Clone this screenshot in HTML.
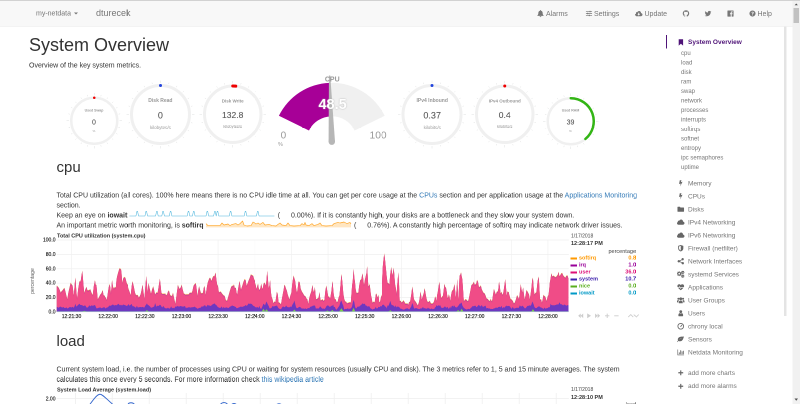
<!DOCTYPE html><html><head><meta charset="utf-8"><title>netdata dashboard</title><style>
html,body{margin:0;padding:0;background:#fff}
body{width:800px;height:404px;overflow:hidden}
#w{position:relative;width:1600px;height:808px;overflow:hidden;transform:scale(.5);transform-origin:0 0;font-family:"Liberation Sans",sans-serif;font-size:14px;line-height:20px;color:#333;will-change:transform}
#w *{box-sizing:border-box}
.abs{position:absolute;white-space:nowrap}
.nav{position:absolute;top:17px;color:#777;font-size:14px;line-height:20px;white-space:nowrap}
.epl,.ept,.epu{position:absolute;left:0;width:100%;text-align:center;line-height:1.42857;white-space:nowrap}
.epl{color:#555;text-shadow:#bbb 0 0 1px}
.ept{color:#999;font-weight:bold}
.epu{color:#999}
a{color:#337ab7;text-decoration:none}
.yl{position:absolute;width:100px;text-align:right;font-size:10px;line-height:12px;color:#111;-webkit-text-stroke:0.25px #111}
.xl{position:absolute;width:80px;text-align:center;font-size:10px;line-height:12px;color:#111;-webkit-text-stroke:0.25px #111}
.lg{position:absolute;left:1141px;width:134px;font-size:11px;line-height:14px;font-weight:bold;white-space:nowrap}
.lg i{position:absolute;left:0;top:6.5px;width:12.5px;height:4px}
.lg b{position:absolute;left:17px;top:0}
.lg u{position:absolute;right:3px;top:0;text-decoration:none}
.sb1{position:absolute;left:1376px;font-size:13px;line-height:18px;color:#767676;white-space:nowrap}
.sb2{position:absolute;left:1362px;font-size:12px;line-height:17px;color:#767676;white-space:nowrap}
</style></head><body><div id="w">
<div style="position:absolute;left:0;top:0;width:1600px;height:53px;background:#f8f8f8;border-bottom:1px solid #e7e7e7"></div>
<div class="nav" style="left:72px;top:16.3px">my-netdata</div>
<div style="position:absolute;left:148px;top:25px;width:0;height:0;border-left:4px solid transparent;border-right:4px solid transparent;border-top:4px solid #777"></div>
<div class="nav" style="left:192px;font-size:18px;top:15.5px">dturecek</div>
<svg style="position:absolute;left:1073px;top:19px" width="16" height="16" viewBox="0 0 16 16" fill="#777"><path d="M8 1.2c.6 0 1 .4 1 1v.4c2 .5 3.300 2.200 3.300 4.400 0 2.600.8 4 2 5v.8H1.700V12c1.200-1 2-2.400 2-5 0-2.200 1.300-3.900 3.300-4.400v-.4c0-.6.400-1 1-1zM6.300 13.600h3.400c0 1-.8 1.700-1.700 1.700s-1.700-.7-1.700-1.700z"/></svg>
<div class="nav" style="left:1092px">Alarms</div>
<svg style="position:absolute;left:1171px;top:20px" width="14" height="14" viewBox="0 0 16 16" fill="#777"><path d="M1 2.800h8.200V2h2.400v.8H15v1.600h-3.400v.8H9.200v-.8H1zM1 7.200h2.800v-.8h2.400v.8H15v1.600H6.200v.8H3.800v-.8H1zM1 11.600h6.600v-.8H10v.8h5v1.600h-5v.8H7.600v-.8H1z"/></svg>
<div class="nav" style="left:1188px">Settings</div>
<svg style="position:absolute;left:1270px;top:20px" width="15" height="15" viewBox="0 0 16 16" fill="#777"><path d="M12.900 6.700c0-.1 0-.2 0-.3 0-2.300-1.900-4.200-4.200-4.200-1.700 0-3.200 1-3.800 2.500-.3-.1-.6-.2-.9-.2-1.300 0-2.300 1-2.300 2.300 0 .2 0 .4.100.6C.7 8 0 9 0 10.200c0 1.700 1.400 3.100 3.100 3.100h9.300c2 0 3.600-1.500 3.600-3.400 0-1.600-1.300-3-3.100-3.200zM8 11.900L5 8.700h1.900V5.800h2.200v2.900H11z" fill-rule="evenodd"/></svg>
<div class="nav" style="left:1289px">Update</div>
<svg style="position:absolute;left:1365px;top:20px" width="14" height="14" viewBox="0 0 16 16" fill="#777"><path d="M8 .7C3.900.7.600 4 .600 8.100c0 3.300 2.100 6 5 7 .4.100.5-.1.500-.4v-1.300c-2 .4-2.500-.9-2.500-.9-.3-.9-.8-1.100-.8-1.100-.7-.5 0-.4 0-.4.700 0 1.100.7 1.100.7.700 1.100 1.700.8 2.100.6.100-.5.300-.8.500-1-1.600-.2-3.400-.8-3.400-3.700 0-.8.300-1.500.8-2-.1-.2-.3-.9.100-2 0 0 .6-.2 2 .8.600-.2 1.200-.2 1.900-.2s1.300.1 1.900.2c1.400-1 2-.8 2-.8.400 1 .2 1.800.1 2 .5.500.8 1.200.8 2 0 2.900-1.700 3.500-3.400 3.700.3.200.5.700.5 1.400v2c0 .2.100.5.500.4 2.900-1 5-3.700 5-7C15.400 4 12.100.7 8 .7z"/></svg>
<svg style="position:absolute;left:1409px;top:20px" width="14" height="14" viewBox="0 0 16 16" fill="#777"><path d="M15.500 3.500c-.6.200-1.100.400-1.800.5.600-.4 1.100-1 1.400-1.700-.6.400-1.300.6-2 .8-.6-.6-1.400-1-2.300-1-1.700 0-3.100 1.400-3.100 3.100 0 .2 0 .5.100.7C5.200 5.800 2.900 4.500 1.400 2.600c-.3.500-.4 1-.4 1.600 0 1.100.5 2 1.400 2.600-.5 0-1-.2-1.400-.4 0 1.500 1.100 2.800 2.500 3.100-.3.100-.5.100-.8.100-.2 0-.4 0-.6-.1.400 1.200 1.500 2.100 2.900 2.200-1.100.8-2.400 1.300-3.900 1.300-.2 0-.5 0-.7 0 1.400.9 3 1.400 4.800 1.400 5.700 0 8.900-4.800 8.900-8.900v-.4c.6-.4 1.100-1 1.500-1.600z"/></svg>
<svg style="position:absolute;left:1454px;top:20px" width="14" height="14" viewBox="0 0 16 16" fill="#777"><path d="M14 1H2c-.6 0-1 .4-1 1v12c0 .6.400 1 1 1h6.500V9.600H6.700V7.500h1.800V5.900c0-1.800 1.100-2.800 2.700-2.800.8 0 1.400.1 1.600.1v1.900h-1.100c-.9 0-1 .4-1 1v1.400h2.100l-.3 2.100h-1.800V15H14c.6 0 1-.4 1-1V2c0-.6-.4-1-1-1z"/></svg>
<svg style="position:absolute;left:1498px;top:20px" width="14" height="14" viewBox="0 0 16 16" fill="#777"><path d="M8 1a7 7 0 100 14A7 7 0 008 1zm.9 11.300H7.100v-1.700h1.800zm1.700-5c-.2.300-.6.600-1 .9-.4.300-.6.500-.6.900v.5H7.100v-.7c0-.8.400-1.200 1-1.600.5-.4.800-.6.800-1 0-.5-.4-.8-.9-.8-.6 0-1 .3-1.300.9L5.300 5.700c.5-1 1.500-1.700 2.800-1.700 1.600 0 2.800.9 2.800 2.200 0 .4-.1.800-.3 1.100z" fill-rule="evenodd"/></svg>
<div class="nav" style="left:1515px">Help</div>
<div class="abs" style="left:58px;top:70px;font-size:36px;line-height:40px;color:#333">System Overview</div>
<div class="abs" style="left:58px;top:120px">Overview of the key system metrics.</div>
<div style="position:absolute;left:132.5px;top:186.3px;width:111px;height:111px"><svg width="111" height="111" viewBox="-55.5 -55.5 111 111" style="position:absolute;left:0;top:0"><path d="M0.00 -50.50L0.00 -55.50M13.07 -48.78L13.85 -51.68M25.25 -43.73L26.75 -46.33M35.71 -35.71L37.83 -37.83M43.73 -25.25L46.33 -26.75M48.78 -13.07L51.68 -13.85M50.50 -0.00L55.50 -0.00M48.78 13.07L51.68 13.85M43.73 25.25L46.33 26.75M35.71 35.71L37.83 37.83M25.25 43.73L26.75 46.33M13.07 48.78L13.85 51.68M0.00 50.50L0.00 55.50M-13.07 48.78L-13.85 51.68M-25.25 43.73L-26.75 46.33M-35.71 35.71L-37.83 37.83M-43.73 25.25L-46.33 26.75M-48.78 13.07L-51.68 13.85M-50.50 0.00L-55.50 0.00M-48.78 -13.07L-51.68 -13.85M-43.73 -25.25L-46.33 -26.75M-35.71 -35.71L-37.83 -37.83M-25.25 -43.73L-26.75 -46.33M-13.07 -48.78L-13.85 -51.68" stroke="#dfe0e0" stroke-width="1" fill="none"/><circle r="46.0" fill="none" stroke="#f0f0f0" stroke-width="5"/><path d="M0 -46.0A46.0 46.0 0 0 1 0.01 -46.00" fill="none" stroke="#ee0000" stroke-width="5" stroke-linecap="round"/></svg><span class="epl" style="font-size:14px;top:48.5px">0</span><span class="ept" style="font-size:7px;top:30.0px">Used Swap</span><span class="epu" style="font-size:6px;top:71.5px">%</span></div>
<div style="position:absolute;left:252.8px;top:161.2px;width:136px;height:136px"><svg width="136" height="136" viewBox="-68.0 -68.0 136 136" style="position:absolute;left:0;top:0"><path d="M0.00 -63.00L0.00 -68.00M16.31 -60.85L17.08 -63.75M31.50 -54.56L33.00 -57.16M44.55 -44.55L46.67 -46.67M54.56 -31.50L57.16 -33.00M60.85 -16.31L63.75 -17.08M63.00 -0.00L68.00 -0.00M60.85 16.31L63.75 17.08M54.56 31.50L57.16 33.00M44.55 44.55L46.67 46.67M31.50 54.56L33.00 57.16M16.31 60.85L17.08 63.75M0.00 63.00L0.00 68.00M-16.31 60.85L-17.08 63.75M-31.50 54.56L-33.00 57.16M-44.55 44.55L-46.67 46.67M-54.56 31.50L-57.16 33.00M-60.85 16.31L-63.75 17.08M-63.00 0.00L-68.00 0.00M-60.85 -16.31L-63.75 -17.08M-54.56 -31.50L-57.16 -33.00M-44.55 -44.55L-46.67 -46.67M-31.50 -54.56L-33.00 -57.16M-16.31 -60.85L-17.08 -63.75" stroke="#dfe0e0" stroke-width="1" fill="none"/><circle r="58.0" fill="none" stroke="#f0f0f0" stroke-width="6"/><path d="M0 -58.0A58.0 58.0 0 0 1 0.01 -58.00" fill="none" stroke="#2244dd" stroke-width="6" stroke-linecap="round"/></svg><span class="epl" style="font-size:18px;top:58px">0</span><span class="ept" style="font-size:10px;top:32.5px">Disk Read</span><span class="epu" style="font-size:9px;top:87.5px">kilobytes/s</span></div>
<div style="position:absolute;left:398.9px;top:162.4px;width:133px;height:133px"><svg width="133" height="133" viewBox="-66.5 -66.5 133 133" style="position:absolute;left:0;top:0"><path d="M0.00 -61.50L0.00 -66.50M15.92 -59.40L16.69 -62.30M30.75 -53.26L32.25 -55.86M43.49 -43.49L45.61 -45.61M53.26 -30.75L55.86 -32.25M59.40 -15.92L62.30 -16.69M61.50 -0.00L66.50 -0.00M59.40 15.92L62.30 16.69M53.26 30.75L55.86 32.25M43.49 43.49L45.61 45.61M30.75 53.26L32.25 55.86M15.92 59.40L16.69 62.30M0.00 61.50L0.00 66.50M-15.92 59.40L-16.69 62.30M-30.75 53.26L-32.25 55.86M-43.49 43.49L-45.61 45.61M-53.26 30.75L-55.86 32.25M-59.40 15.92L-62.30 16.69M-61.50 0.00L-66.50 0.00M-59.40 -15.92L-62.30 -16.69M-53.26 -30.75L-55.86 -32.25M-43.49 -43.49L-45.61 -45.61M-30.75 -53.26L-32.25 -55.86M-15.92 -59.40L-16.69 -62.30" stroke="#dfe0e0" stroke-width="1" fill="none"/><circle r="56.5" fill="none" stroke="#f0f0f0" stroke-width="6"/><path d="M0 -56.5A56.5 56.5 0 0 1 5.99 -56.18" fill="none" stroke="#ee0000" stroke-width="6" stroke-linecap="round"/></svg><span class="epl" style="font-size:17px;top:57px">132.8</span><span class="ept" style="font-size:9px;top:33.5px">Disk Write</span><span class="epu" style="font-size:8px;top:84.5px">kilobytes/s</span></div>
<svg style="position:absolute;left:0;top:0" width="1600" height="808" viewBox="0 0 1600 808"><path d="M557.81 231.58A117.8 117.8 0 0 1 769.39 231.58L709.22 261.05A50.8 50.8 0 0 0 617.98 261.05Z" fill="#f0f0f0"/><path d="M557.81 231.58A117.8 117.8 0 0 1 659.66 165.67L661.90 232.63A50.8 50.8 0 0 0 617.98 261.05Z" fill="#a70097"/><clipPath id="gc"><rect x="500" y="151" width="340" height="160"/></clipPath><g clip-path="url(#gc)"><path d="M670.00 283.19L658.05 117.49L657.20 283.61Z" fill="#b6b6b6"/><circle cx="663.6" cy="283.4" r="6.4" fill="#b6b6b6"/></g></svg>
<div class="abs" style="left:544.5px;width:240px;text-align:center;top:148.5px;font-size:14px;line-height:18px;font-weight:bold;color:#999">CPU</div>
<div class="abs" style="left:545.2px;width:240px;text-align:center;top:188px;font-size:29px;line-height:40px;font-weight:bold;color:#fff;text-shadow:#aaa 0 0 3px">48.5</div>
<div class="abs" style="left:561.2px;top:257px;font-size:20px;line-height:26px;color:#999">0</div>
<div class="abs" style="left:739px;top:257px;font-size:20.5px;line-height:26px;color:#999">100</div>
<div class="abs" style="left:556px;top:280.5px;font-size:11px;line-height:14px;color:#999">%</div>
<div style="position:absolute;left:796.4px;top:161.2px;width:136px;height:136px"><svg width="136" height="136" viewBox="-68.0 -68.0 136 136" style="position:absolute;left:0;top:0"><path d="M0.00 -63.00L0.00 -68.00M16.31 -60.85L17.08 -63.75M31.50 -54.56L33.00 -57.16M44.55 -44.55L46.67 -46.67M54.56 -31.50L57.16 -33.00M60.85 -16.31L63.75 -17.08M63.00 -0.00L68.00 -0.00M60.85 16.31L63.75 17.08M54.56 31.50L57.16 33.00M44.55 44.55L46.67 46.67M31.50 54.56L33.00 57.16M16.31 60.85L17.08 63.75M0.00 63.00L0.00 68.00M-16.31 60.85L-17.08 63.75M-31.50 54.56L-33.00 57.16M-44.55 44.55L-46.67 46.67M-54.56 31.50L-57.16 33.00M-60.85 16.31L-63.75 17.08M-63.00 0.00L-68.00 0.00M-60.85 -16.31L-63.75 -17.08M-54.56 -31.50L-57.16 -33.00M-44.55 -44.55L-46.67 -46.67M-31.50 -54.56L-33.00 -57.16M-16.31 -60.85L-17.08 -63.75" stroke="#dfe0e0" stroke-width="1" fill="none"/><circle r="58.0" fill="none" stroke="#f0f0f0" stroke-width="6"/><path d="M0 -58.0A58.0 58.0 0 0 1 0.01 -58.00" fill="none" stroke="#2244dd" stroke-width="6" stroke-linecap="round"/></svg><span class="epl" style="font-size:18px;top:58px">0.37</span><span class="ept" style="font-size:10px;top:32.5px">IPv4 Inbound</span><span class="epu" style="font-size:9px;top:87.5px">kilobits/s</span></div>
<div style="position:absolute;left:942.9px;top:162.4px;width:133px;height:133px"><svg width="133" height="133" viewBox="-66.5 -66.5 133 133" style="position:absolute;left:0;top:0"><path d="M0.00 -61.50L0.00 -66.50M15.92 -59.40L16.69 -62.30M30.75 -53.26L32.25 -55.86M43.49 -43.49L45.61 -45.61M53.26 -30.75L55.86 -32.25M59.40 -15.92L62.30 -16.69M61.50 -0.00L66.50 -0.00M59.40 15.92L62.30 16.69M53.26 30.75L55.86 32.25M43.49 43.49L45.61 45.61M30.75 53.26L32.25 55.86M15.92 59.40L16.69 62.30M0.00 61.50L0.00 66.50M-15.92 59.40L-16.69 62.30M-30.75 53.26L-32.25 55.86M-43.49 43.49L-45.61 45.61M-53.26 30.75L-55.86 32.25M-59.40 15.92L-62.30 16.69M-61.50 0.00L-66.50 0.00M-59.40 -15.92L-62.30 -16.69M-53.26 -30.75L-55.86 -32.25M-43.49 -43.49L-45.61 -45.61M-30.75 -53.26L-32.25 -55.86M-15.92 -59.40L-16.69 -62.30" stroke="#dfe0e0" stroke-width="1" fill="none"/><circle r="56.5" fill="none" stroke="#f0f0f0" stroke-width="6"/><path d="M0 -56.5A56.5 56.5 0 0 1 0.01 -56.50" fill="none" stroke="#ee0000" stroke-width="6" stroke-linecap="round"/></svg><span class="epl" style="font-size:17px;top:57px">0.4</span><span class="ept" style="font-size:9px;top:33.5px">IPv4 Outbound</span><span class="epu" style="font-size:8px;top:84.5px">kilobits/s</span></div>
<div style="position:absolute;left:1085.5px;top:187.1px;width:111px;height:111px"><svg width="111" height="111" viewBox="-55.5 -55.5 111 111" style="position:absolute;left:0;top:0"><path d="M0.00 -50.50L0.00 -55.50M13.07 -48.78L13.85 -51.68M25.25 -43.73L26.75 -46.33M35.71 -35.71L37.83 -37.83M43.73 -25.25L46.33 -26.75M48.78 -13.07L51.68 -13.85M50.50 -0.00L55.50 -0.00M48.78 13.07L51.68 13.85M43.73 25.25L46.33 26.75M35.71 35.71L37.83 37.83M25.25 43.73L26.75 46.33M13.07 48.78L13.85 51.68M0.00 50.50L0.00 55.50M-13.07 48.78L-13.85 51.68M-25.25 43.73L-26.75 46.33M-35.71 35.71L-37.83 37.83M-43.73 25.25L-46.33 26.75M-48.78 13.07L-51.68 13.85M-50.50 0.00L-55.50 0.00M-48.78 -13.07L-51.68 -13.85M-43.73 -25.25L-46.33 -26.75M-35.71 -35.71L-37.83 -37.83M-25.25 -43.73L-26.75 -46.33M-13.07 -48.78L-13.85 -51.68" stroke="#dfe0e0" stroke-width="1" fill="none"/><circle r="46.0" fill="none" stroke="#f0f0f0" stroke-width="5"/><path d="M0 -46.0A46.0 46.0 0 0 1 29.32 35.44" fill="none" stroke="#33b515" stroke-width="5" stroke-linecap="round"/></svg><span class="epl" style="font-size:14px;top:48px">39</span><span class="ept" style="font-size:7px;top:28.5px">Used RAM</span><span class="epu" style="font-size:6px;top:70.5px">%</span></div>
<div class="abs" style="left:113px;top:317px;font-size:30px;line-height:33px;color:#333">cpu</div>
<div class="abs" style="left:113px;top:380px">Total CPU utilization (all cores). 100% here means there is no CPU idle time at all. You can get per core usage at the <a>CPUs</a> section and per application usage at the <a>Applications Monitoring</a></div>
<div class="abs" style="left:113px;top:400px">section.</div>
<div class="abs" style="left:113px;top:419.7px">Keep an eye on <b>iowait</b></div>
<div class="abs" style="left:555.5px;top:419.7px">(</div><div class="abs" style="left:582px;top:419.7px">0.00%). If it is constantly high, your disks are a bottleneck and they slow your system down.</div>
<div class="abs" style="left:113px;top:439.7px">An important metric worth monitoring, is <b>softirq</b></div>
<div class="abs" style="left:708px;top:439.7px">(</div><div class="abs" style="left:734.5px;top:439.7px">0.76%). A constantly high percentage of softirq may indicate network driver issues.</div>
<svg style="position:absolute;left:0;top:0" width="1600" height="808" viewBox="0 0 1600 808"><path d="M258.8 432L271.9 432L273.9 422.5L275.1 422.5L277.1 432L289.9 432L291.9 422.5L293.1 422.5L295.1 432L311.2 432L313.2 422.5L314.4 422.5L316.4 432L323.6 432L325.6 422.5L326.8 422.5L328.8 432L338.6 432L340.6 422.5L341.8 422.5L343.8 432L374.4 432L376.4 422.5L377.6 422.5L379.6 432L384.9 432L386.9 422.5L388.1 422.5L390.1 432L412.1 432L414.1 422.5L415.3 422.5L417.3 432L427.2 432L429.2 422.5L430.4 422.5L432.4 432L432.4 432L434.4 422.5L435.6 422.5L437.6 432L458.6 432L460.6 422.5L461.8 422.5L463.8 432L488.4 432L490.4 422.5L491.6 422.5L493.6 432L512.9 432L514.9 422.5L516.1 422.5L518.1 432L548.8 432" fill="none" stroke="#4db5dc" stroke-width="1.1" stroke-linejoin="round"/><path d="M412.0 447.2L416.0 451.2L440.0 451.2L444.0 446.0L448.0 450.0L456.0 448.0L460.0 451.2L464.0 448.8L472.0 447.2L476.0 450.0L480.0 447.2L485.2 442.0L488.0 450.0L494.0 452.0L502.0 451.2L506.0 444.0L512.0 448.0L516.0 446.0L520.0 448.8L526.0 444.8L530.0 450.0L538.0 448.8L544.0 451.2L552.0 452.0L556.0 448.8L560.0 446.0L564.0 450.0L572.0 451.2L576.0 446.0L580.0 451.2L588.0 452.0L600.0 451.2L604.0 447.2L608.0 450.0L610.0 444.8L612.0 450.0L618.0 451.2L624.0 447.2L628.0 451.2L636.0 448.8L640.0 446.0L644.0 451.2L652.0 452.0L664.0 451.2L668.0 447.2L676.0 444.8L680.0 446.0L688.0 444.0L694.0 447.2L700.0 444.8L702.0 448.0L702.0 454.8L412.0 454.8Z" fill="#ffe6c2"/><path d="M412.0 447.2L416.0 451.2L440.0 451.2L444.0 446.0L448.0 450.0L456.0 448.0L460.0 451.2L464.0 448.8L472.0 447.2L476.0 450.0L480.0 447.2L485.2 442.0L488.0 450.0L494.0 452.0L502.0 451.2L506.0 444.0L512.0 448.0L516.0 446.0L520.0 448.8L526.0 444.8L530.0 450.0L538.0 448.8L544.0 451.2L552.0 452.0L556.0 448.8L560.0 446.0L564.0 450.0L572.0 451.2L576.0 446.0L580.0 451.2L588.0 452.0L600.0 451.2L604.0 447.2L608.0 450.0L610.0 444.8L612.0 450.0L618.0 451.2L624.0 447.2L628.0 451.2L636.0 448.8L640.0 446.0L644.0 451.2L652.0 452.0L664.0 451.2L668.0 447.2L676.0 444.8L680.0 446.0L688.0 444.0L694.0 447.2L700.0 444.8L702.0 448.0" fill="none" stroke="#ffa526" stroke-width="1.3" stroke-linejoin="round"/></svg>
<div class="abs" style="left:114px;top:464px;font-size:11px;line-height:14px;font-weight:bold;color:#333">Total CPU utilization (system.cpu)</div>
<svg style="position:absolute;left:0;top:0" width="1600" height="808" viewBox="0 0 1600 808"><path d="M113.6 623.8H1137.6M113.6 595.0H1137.6M113.6 566.3H1137.6M113.6 537.5H1137.6M113.6 508.8H1137.6M113.6 480.0H1137.6M143.0 480.0V623.8M216.3 480.0V623.8M289.6 480.0V623.8M362.9 480.0V623.8M436.2 480.0V623.8M509.5 480.0V623.8M582.8 480.0V623.8M656.1 480.0V623.8M729.4 480.0V623.8M802.7 480.0V623.8M876.0 480.0V623.8M949.3 480.0V623.8M1022.6 480.0V623.8M1095.9 480.0V623.8" stroke="#f0f0f0" stroke-width="1.3" fill="none"/><path d="M113.6 623.8L113.6 570.7L117.3 575.0L119.5 579.7L121.4 585.0L123.3 581.9L125.2 580.2L127.1 577.3L128.9 575.4L130.8 582.2L132.7 590.5L134.6 597.8L136.8 584.6L139.1 574.6L141.3 565.1L143.2 568.3L145.1 570.7L146.4 581.0L147.7 590.5L149.3 569.0L150.8 554.4L152.4 577.8L154.1 596.9L156.6 576.0L159.0 561.9L160.4 562.9L161.7 559.7L163.2 548.6L164.7 541.1L166.6 565.0L168.4 585.6L170.7 578.4L173.0 573.2L174.8 580.2L176.7 580.3L178.6 579.7L180.5 578.1L182.9 584.7L185.4 590.1L187.6 571.9L189.9 559.9L191.4 568.8L192.9 569.8L194.2 584.3L195.5 598.2L198.0 593.9L200.4 588.9L202.9 586.1L205.3 579.7L207.1 589.9L208.8 590.4L210.6 593.9L212.1 595.7L213.6 599.5L215.5 586.6L217.4 574.5L219.2 567.5L220.6 574.0L221.9 587.0L224.1 559.6L226.0 572.9L227.9 577.0L229.8 573.3L231.7 575.0L233.0 559.1L234.3 552.1L236.7 543.3L239.2 535.6L240.5 538.5L241.8 536.1L243.1 546.1L244.4 565.6L246.3 557.0L248.2 553.5L250.7 555.0L253.1 564.3L255.0 569.7L256.9 577.3L259.1 582.9L261.4 590.4L263.3 571.8L265.1 562.1L267.6 572.6L270.0 584.9L271.9 589.7L273.8 589.8L275.7 589.8L277.6 594.8L279.4 592.2L281.3 587.9L283.2 579.2L285.1 569.0L287.0 583.8L288.8 597.5L290.7 572.9L292.6 551.3L293.9 568.3L295.2 584.8L297.1 565.4L299.6 577.6L302.0 587.3L304.3 578.1L306.5 572.2L308.4 580.3L310.3 588.7L312.7 584.4L315.2 585.3L317.4 571.9L319.7 556.7L321.2 569.2L322.7 585.1L324.6 587.2L326.5 587.1L328.4 587.6L330.2 586.2L332.1 590.1L334.0 588.7L335.9 583.1L337.8 580.5L340.0 588.8L342.3 591.8L344.2 590.7L346.0 585.0L348.5 597.5L350.9 607.6L353.4 587.3L355.8 569.3L357.5 573.9L359.2 577.6L361.3 574.7L363.3 569.1L365.6 579.2L367.9 587.5L369.9 587.3L372.0 589.6L373.9 587.3L375.8 589.0L377.6 587.7L380.1 584.4L382.5 585.9L384.8 581.7L387.1 571.1L389.3 567.9L391.6 565.7L393.1 575.6L394.6 591.7L396.5 580.0L398.3 571.9L400.2 580.1L402.1 586.6L404.0 585.2L405.9 586.1L407.4 575.4L408.9 571.4L410.2 579.6L411.5 589.2L413.4 576.0L415.3 565.3L417.2 560.1L419.0 555.4L420.9 555.8L422.8 561.6L424.7 556.1L426.6 551.7L428.8 552.3L431.1 544.7L432.6 557.0L434.1 567.9L436.0 571.8L437.8 584.4L439.7 583.3L441.6 582.8L443.5 586.0L445.4 588.3L447.3 590.4L449.1 591.2L451.6 599.5L454.0 601.5L455.9 595.1L457.8 588.3L460.0 580.6L462.3 573.4L464.2 571.1L466.1 571.8L467.9 568.6L469.8 576.0L471.7 574.9L473.0 584.0L474.3 588.9L476.8 573.6L479.2 561.4L480.6 570.8L481.9 579.2L483.4 574.4L484.9 570.1L487.1 562.7L489.4 557.8L491.3 560.1L493.2 571.2L495.0 566.8L496.9 561.4L499.4 555.5L501.8 548.4L504.1 550.1L506.3 551.1L507.8 556.3L509.3 563.5L511.2 568.6L513.1 578.0L514.6 571.3L516.1 566.9L517.4 575.5L518.7 580.0L520.6 576.1L522.5 566.7L524.0 574.0L525.5 577.7L526.8 568.8L528.2 564.7L530.0 566.6L531.9 570.6L533.2 556.8L534.5 541.1L536.1 560.9L537.6 576.5L538.9 569.8L540.2 559.4L541.7 583.1L543.2 592.9L545.1 598.2L547.0 606.4L548.8 602.6L550.7 603.7L552.2 594.5L553.7 583.1L555.4 587.4L557.1 604.0L559.6 605.4L562.0 608.4L563.9 596.4L565.8 586.5L567.3 578.7L568.8 569.0L570.5 572.0L572.2 577.3L573.7 581.0L575.2 587.5L577.1 593.4L578.9 598.7L580.8 590.5L582.7 585.3L585.0 563.0L587.2 550.5L588.7 556.0L590.2 560.7L592.1 575.3L594.0 585.5L595.5 575.2L597.0 562.6L599.3 563.7L601.5 577.3L603.8 582.7L606.0 586.2L608.5 590.7L610.9 592.2L612.8 596.5L614.7 598.0L616.6 607.3L618.5 595.9L620.3 589.1L622.6 582.4L624.9 569.4L626.4 579.9L627.9 584.0L629.7 573.7L632.0 598.0L633.9 597.5L635.8 595.9L637.3 594.4L638.8 583.5L640.1 593.4L641.4 600.2L643.3 599.6L645.2 598.0L647.1 601.4L648.9 598.9L650.8 580.1L652.7 570.5L654.6 581.7L656.5 592.7L658.3 592.8L660.2 596.9L662.7 582.5L665.1 561.5L666.4 577.5L667.7 590.1L669.6 597.6L671.5 598.3L673.4 604.1L675.3 602.9L677.2 594.6L679.0 590.1L680.9 570.5L682.8 547.5L684.7 563.0L686.6 586.1L688.4 597.3L690.3 602.4L692.2 602.7L694.1 606.4L696.0 604.7L697.8 604.9L699.7 603.8L701.6 605.0L702.9 587.4L704.2 570.5L705.7 559.0L707.3 537.0L708.6 554.1L709.9 562.8L711.4 578.4L712.9 585.5L714.8 585.6L716.7 584.7L718.5 570.1L720.4 560.2L722.7 557.7L724.9 546.2L726.4 556.0L727.9 570.3L729.8 559.1L731.7 550.7L733.0 545.2L734.3 531.7L736.6 572.4L737.9 571.3L739.2 567.6L740.6 578.0L741.9 589.6L743.4 595.7L744.9 605.0L747.1 603.1L749.4 604.3L751.7 587.7L753.0 587.0L754.3 591.8L755.6 594.5L756.9 588.9L758.4 603.6L759.9 604.0L761.4 596.8L762.9 590.0L764.3 560.1L765.6 532.6L767.1 517.4L768.6 506.2L770.3 520.9L772.0 538.1L773.5 553.3L775.0 565.1L776.9 565.9L778.7 568.5L780.6 547.1L782.5 533.5L783.8 542.7L785.1 551.3L787.4 534.8L788.7 549.4L790.0 567.1L791.5 574.6L793.0 589.4L794.9 564.0L796.8 544.0L798.1 568.8L799.4 601.7L801.3 601.2L803.2 604.6L805.1 603.1L807.0 600.2L808.8 603.3L810.7 606.6L812.6 607.1L814.5 605.9L816.4 609.2L818.3 603.4L820.1 603.5L822.4 589.9L824.6 572.5L826.2 583.6L827.7 597.2L829.5 601.0L831.4 603.1L833.3 606.3L835.7 610.4L838.2 602.7L839.7 592.7L841.2 582.6L843.5 598.7L845.0 593.3L846.5 589.1L847.8 584.8L849.1 575.9L850.6 582.7L852.1 591.8L854.0 600.6L855.9 604.0L857.8 603.0L859.6 601.2L861.5 605.9L863.4 606.7L865.3 606.4L867.2 604.5L868.7 600.1L870.2 592.2L871.5 595.2L872.8 601.7L874.3 589.2L875.8 582.0L877.3 571.4L878.8 563.1L880.5 579.7L882.2 595.6L884.1 593.0L886.0 590.8L887.5 578.5L889.0 567.2L890.5 573.8L892.0 574.8L893.5 583.2L895.0 595.2L896.3 594.1L897.6 588.3L899.0 592.1L900.3 601.5L901.8 592.1L903.3 583.6L904.8 580.3L906.3 579.2L907.6 574.0L908.9 567.6L910.2 579.7L911.6 595.1L913.1 578.7L914.6 557.4L916.5 599.9L917.8 579.1L919.1 550.9L920.6 548.9L922.1 544.3L923.4 552.1L924.7 558.0L926.2 580.1L927.7 602.6L930.2 598.2L932.6 598.4L934.5 601.4L936.4 601.2L937.7 596.7L939.0 589.7L940.9 580.1L942.8 569.7L945.2 567.9L947.7 563.1L949.4 568.7L951.1 568.5L952.6 566.3L954.1 559.6L956.0 563.1L957.8 573.3L959.7 573.6L961.6 570.3L963.5 577.9L965.4 582.3L967.3 585.6L969.1 586.2L971.0 590.3L972.9 596.2L975.3 597.5L977.8 600.6L979.7 601.7L981.6 596.8L982.9 601.6L984.2 601.6L986.1 588.8L987.9 577.2L989.8 583.4L991.7 588.8L993.6 583.2L995.5 582.5L996.8 576.6L998.1 562.7L999.6 571.4L1001.1 586.3L1003.0 583.2L1004.9 589.5L1006.4 586.0L1007.9 576.7L1009.2 566.8L1010.5 557.7L1011.8 571.1L1013.2 590.9L1015.0 582.2L1016.9 584.2L1018.8 589.5L1020.7 597.0L1023.1 598.5L1025.6 601.6L1027.5 606.1L1029.3 605.4L1031.8 598.3L1034.2 589.8L1036.1 593.4L1038.0 597.6L1039.7 584.4L1041.4 567.6L1042.9 577.3L1044.4 584.4L1046.3 574.5L1047.8 588.1L1049.3 598.3L1051.2 589.8L1053.0 579.5L1054.9 582.6L1056.8 586.1L1058.1 588.7L1059.4 598.2L1061.3 587.4L1063.2 572.1L1064.5 558.7L1065.8 554.9L1067.3 574.5L1068.8 588.7L1070.7 585.7L1072.6 584.6L1073.9 574.1L1075.2 561.6L1077.5 552.6L1078.8 575.6L1080.1 599.1L1082.0 597.5L1083.9 604.9L1085.4 597.9L1086.9 589.2L1088.6 591.6L1090.3 592.5L1091.8 596.5L1093.3 602.1L1095.2 592.7L1097.1 589.3L1098.4 578.4L1099.7 564.2L1101.2 556.3L1102.7 546.0L1104.6 552.7L1106.5 551.0L1108.4 552.0L1110.2 553.8L1112.1 553.6L1114.0 551.0L1115.5 549.3L1117.0 543.2L1118.9 552.3L1120.8 549.5L1122.7 546.0L1124.5 545.8L1126.4 550.4L1128.3 552.7L1130.6 555.0L1132.8 551.0L1134.9 550.5L1137.0 556.9L1137.0 623.8Z" fill="#ffad33" /><path d="M113.6 623.8L113.6 571.8L117.3 576.1L119.5 580.8L121.4 586.1L123.3 583.0L125.2 581.3L127.1 578.5L128.9 576.6L130.8 583.4L132.7 591.7L134.6 599.0L136.8 585.8L139.1 575.7L141.3 566.3L143.2 569.5L145.1 571.8L146.4 582.2L147.7 591.7L149.3 570.2L150.8 555.5L152.4 578.9L154.1 598.0L156.6 577.1L159.0 563.0L160.4 564.1L161.7 560.8L163.2 549.7L164.7 542.3L166.6 566.1L168.4 586.8L170.7 579.6L173.0 574.3L174.8 581.3L176.7 581.4L178.6 580.9L180.5 579.2L182.9 585.9L185.4 591.2L187.6 573.1L189.9 561.1L191.4 570.0L192.9 570.9L194.2 585.5L195.5 599.4L198.0 595.1L200.4 590.1L202.9 587.2L205.3 580.9L207.1 591.1L208.8 591.6L210.6 595.1L212.1 596.8L213.6 600.7L215.5 587.7L217.4 575.6L219.2 568.7L220.6 575.2L221.9 588.2L224.1 560.7L226.0 574.0L227.9 578.1L229.8 574.5L231.7 576.2L233.0 560.3L234.3 553.3L236.7 544.4L239.2 536.7L240.5 539.7L241.8 537.2L243.1 547.3L244.4 566.7L246.3 558.1L248.2 554.7L250.7 556.1L253.1 565.4L255.0 570.9L256.9 578.5L259.1 584.1L261.4 591.5L263.3 573.0L265.1 563.3L267.6 573.8L270.0 586.0L271.9 590.8L273.8 590.9L275.7 590.9L277.6 596.0L279.4 593.3L281.3 589.1L283.2 580.3L285.1 570.1L287.0 584.9L288.8 598.7L290.7 574.0L292.6 552.4L293.9 569.5L295.2 586.0L297.1 566.6L299.6 578.8L302.0 588.5L304.3 579.3L306.5 573.4L308.4 581.5L310.3 589.8L312.7 585.6L315.2 586.4L317.4 573.1L319.7 557.8L321.2 570.4L322.7 586.3L324.6 588.4L326.5 588.2L328.4 588.8L330.2 587.4L332.1 591.3L334.0 589.9L335.9 584.2L337.8 581.6L340.0 590.0L342.3 592.9L344.2 591.9L346.0 586.2L348.5 598.6L350.9 608.8L353.4 588.5L355.8 570.5L357.5 575.1L359.2 578.8L361.3 575.8L363.3 570.3L365.6 580.4L367.9 588.7L369.9 588.4L372.0 590.8L373.9 588.4L375.8 590.2L377.6 588.8L380.1 585.5L382.5 587.0L384.8 582.9L387.1 572.3L389.3 569.0L391.6 566.9L393.1 576.7L394.6 592.8L396.5 581.1L398.3 573.0L400.2 581.2L402.1 587.7L404.0 586.4L405.9 587.3L407.4 576.6L408.9 572.5L410.2 580.8L411.5 590.3L413.4 577.1L415.3 566.5L417.2 561.2L419.0 556.6L420.9 557.0L422.8 562.8L424.7 557.2L426.6 552.9L428.8 553.4L431.1 545.8L432.6 558.1L434.1 569.0L436.0 573.0L437.8 585.6L439.7 584.4L441.6 583.9L443.5 587.1L445.4 589.4L447.3 591.6L449.1 592.3L451.6 600.6L454.0 602.7L455.9 596.3L457.8 589.4L460.0 581.7L462.3 574.5L464.2 572.3L466.1 572.9L467.9 569.7L469.8 577.1L471.7 576.1L473.0 585.1L474.3 590.1L476.8 574.7L479.2 562.6L480.6 571.9L481.9 580.4L483.4 575.6L484.9 571.3L487.1 563.9L489.4 559.0L491.3 561.3L493.2 572.3L495.0 568.0L496.9 562.5L499.4 556.6L501.8 549.5L504.1 551.2L506.3 552.3L507.8 557.5L509.3 564.7L511.2 569.8L513.1 579.1L514.6 572.5L516.1 568.1L517.4 576.6L518.7 581.1L520.6 577.3L522.5 567.9L524.0 575.1L525.5 578.8L526.8 569.9L528.2 565.8L530.0 567.8L531.9 571.7L533.2 557.9L534.5 542.3L536.1 562.1L537.6 577.6L538.9 570.9L540.2 560.6L541.7 584.3L543.2 594.1L545.1 599.4L547.0 607.5L548.8 603.8L550.7 604.8L552.2 595.7L553.7 584.3L555.4 588.6L557.1 605.2L559.6 606.6L562.0 609.5L563.9 597.5L565.8 587.7L567.3 579.9L568.8 570.1L570.5 573.2L572.2 578.5L573.7 582.1L575.2 588.7L577.1 594.6L578.9 599.8L580.8 591.6L582.7 586.4L585.0 564.2L587.2 551.7L588.7 557.2L590.2 561.9L592.1 576.4L594.0 586.7L595.5 576.4L597.0 563.8L599.3 564.9L601.5 578.5L603.8 583.9L606.0 587.3L608.5 591.8L610.9 593.3L612.8 597.7L614.7 599.1L616.6 608.5L618.5 597.0L620.3 590.2L622.6 583.6L624.9 570.6L626.4 581.0L627.9 585.2L629.7 574.8L632.0 599.1L633.9 598.6L635.8 597.1L637.3 595.6L638.8 584.6L640.1 594.6L641.4 601.4L643.3 600.8L645.2 599.2L647.1 602.6L648.9 600.0L650.8 581.2L652.7 571.7L654.6 582.8L656.5 593.8L658.3 594.0L660.2 598.1L662.7 583.7L665.1 562.6L666.4 578.6L667.7 591.3L669.6 598.8L671.5 599.4L673.4 605.2L675.3 604.1L677.2 595.8L679.0 591.2L680.9 571.6L682.8 548.7L684.7 564.1L686.6 587.3L688.4 598.5L690.3 603.5L692.2 603.9L694.1 607.5L696.0 605.9L697.8 606.1L699.7 605.0L701.6 606.1L702.9 588.5L704.2 571.6L705.7 560.2L707.3 538.1L708.6 555.3L709.9 564.0L711.4 579.6L712.9 586.7L714.8 586.7L716.7 585.8L718.5 571.3L720.4 561.3L722.7 558.9L724.9 547.3L726.4 557.2L727.9 571.4L729.8 560.3L731.7 551.9L733.0 546.3L734.3 532.9L736.6 573.6L737.9 572.4L739.2 568.7L740.6 579.2L741.9 590.7L743.4 596.9L744.9 606.1L747.1 604.2L749.4 605.4L751.7 588.8L753.0 588.2L754.3 593.0L755.6 595.7L756.9 590.0L758.4 604.7L759.9 605.1L761.4 598.0L762.9 591.2L764.3 561.3L765.6 533.7L767.1 518.5L768.6 507.4L770.3 522.0L772.0 539.3L773.5 554.4L775.0 566.3L776.9 567.0L778.7 569.6L780.6 548.3L782.5 534.6L783.8 543.8L785.1 552.5L787.4 535.9L788.7 550.6L790.0 568.2L791.5 575.8L793.0 590.6L794.9 565.2L796.8 545.2L798.1 569.9L799.4 602.8L801.3 602.3L803.2 605.7L805.1 604.2L807.0 601.4L808.8 604.5L810.7 607.8L812.6 608.3L814.5 607.0L816.4 610.3L818.3 604.5L820.1 604.6L822.4 591.1L824.6 573.7L826.2 584.7L827.7 598.4L829.5 602.1L831.4 604.2L833.3 607.5L835.7 611.5L838.2 603.9L839.7 593.9L841.2 583.7L843.5 599.8L845.0 594.4L846.5 590.2L847.8 585.9L849.1 577.1L850.6 583.8L852.1 593.0L854.0 601.8L855.9 605.2L857.8 604.1L859.6 602.3L861.5 607.0L863.4 607.9L865.3 607.6L867.2 605.7L868.7 601.2L870.2 593.4L871.5 596.3L872.8 602.9L874.3 590.4L875.8 583.2L877.3 572.5L878.8 564.3L880.5 580.8L882.2 596.8L884.1 594.2L886.0 591.9L887.5 579.6L889.0 568.3L890.5 575.0L892.0 575.9L893.5 584.3L895.0 596.4L896.3 595.2L897.6 589.5L899.0 593.3L900.3 602.6L901.8 593.2L903.3 584.7L904.8 581.5L906.3 580.4L907.6 575.1L908.9 568.7L910.2 580.8L911.6 596.3L913.1 579.8L914.6 558.6L916.5 601.0L917.8 580.3L919.1 552.0L920.6 550.1L922.1 545.5L923.4 553.3L924.7 559.2L926.2 581.3L927.7 603.7L930.2 599.4L932.6 599.5L934.5 602.6L936.4 602.4L937.7 597.8L939.0 590.9L940.9 581.2L942.8 570.9L945.2 569.0L947.7 564.2L949.4 569.8L951.1 569.6L952.6 567.5L954.1 560.7L956.0 564.2L957.8 574.5L959.7 574.8L961.6 571.5L963.5 579.0L965.4 583.5L967.3 586.8L969.1 587.3L971.0 591.5L972.9 597.3L975.3 598.6L977.8 601.8L979.7 602.9L981.6 597.9L982.9 602.8L984.2 602.7L986.1 590.0L987.9 578.4L989.8 584.5L991.7 590.0L993.6 584.3L995.5 583.6L996.8 577.7L998.1 563.8L999.6 572.5L1001.1 587.5L1003.0 584.4L1004.9 590.6L1006.4 587.1L1007.9 577.8L1009.2 568.0L1010.5 558.9L1011.8 572.3L1013.2 592.0L1015.0 583.3L1016.9 585.4L1018.8 590.6L1020.7 598.2L1023.1 599.7L1025.6 602.7L1027.5 607.3L1029.3 606.6L1031.8 599.5L1034.2 590.9L1036.1 594.6L1038.0 598.7L1039.7 585.6L1041.4 568.8L1042.9 578.4L1044.4 585.6L1046.3 575.6L1047.8 589.3L1049.3 599.5L1051.2 591.0L1053.0 580.7L1054.9 583.7L1056.8 587.3L1058.1 589.9L1059.4 599.4L1061.3 588.5L1063.2 573.3L1064.5 559.9L1065.8 556.1L1067.3 575.7L1068.8 589.8L1070.7 586.9L1072.6 585.7L1073.9 575.3L1075.2 562.8L1077.5 553.7L1078.8 576.8L1080.1 600.2L1082.0 598.7L1083.9 606.0L1085.4 599.0L1086.9 590.4L1088.6 592.8L1090.3 593.7L1091.8 597.7L1093.3 603.3L1095.2 593.8L1097.1 590.5L1098.4 579.6L1099.7 565.3L1101.2 557.5L1102.7 547.2L1104.6 553.8L1106.5 552.1L1108.4 553.2L1110.2 554.9L1112.1 554.7L1114.0 552.2L1115.5 550.5L1117.0 544.3L1118.9 553.4L1120.8 550.7L1122.7 547.2L1124.5 546.9L1126.4 551.5L1128.3 553.9L1130.6 556.2L1132.8 552.2L1134.9 551.6L1137.0 558.1L1137.0 623.8Z" fill="#b030b0" /><path d="M113.6 623.8L113.6 573.3L117.3 577.6L119.5 582.3L121.4 587.6L123.3 584.5L125.2 582.8L127.1 579.9L128.9 578.0L130.8 584.8L132.7 593.1L134.6 600.4L136.8 587.2L139.1 577.2L141.3 567.7L143.2 570.9L145.1 573.3L146.4 583.6L147.7 593.1L149.3 571.6L150.8 556.9L152.4 580.4L154.1 599.5L156.6 578.5L159.0 564.4L160.4 565.5L161.7 562.3L163.2 551.2L164.7 543.7L166.6 567.6L168.4 588.2L170.7 581.0L173.0 575.7L174.8 582.8L176.7 582.9L178.6 582.3L180.5 580.7L182.9 587.3L185.4 592.6L187.6 574.5L189.9 562.5L191.4 571.4L192.9 572.4L194.2 586.9L195.5 600.8L198.0 596.5L200.4 591.5L202.9 588.7L205.3 582.3L207.1 592.5L208.8 593.0L210.6 596.5L212.1 598.3L213.6 602.1L215.5 589.2L217.4 577.0L219.2 570.1L220.6 576.6L221.9 589.6L224.1 562.2L226.0 575.5L227.9 579.6L229.8 575.9L231.7 577.6L233.0 561.7L234.3 554.7L236.7 545.9L239.2 538.2L240.5 541.1L241.8 538.7L243.1 548.7L244.4 568.2L246.3 559.6L248.2 556.1L250.7 557.6L253.1 566.9L255.0 572.3L256.9 579.9L259.1 585.5L261.4 593.0L263.3 574.4L265.1 564.7L267.6 575.2L270.0 587.5L271.9 592.3L273.8 592.4L275.7 592.4L277.6 597.4L279.4 594.7L281.3 590.5L283.2 581.8L285.1 571.6L287.0 586.4L288.8 600.1L290.7 575.5L292.6 553.9L293.9 570.9L295.2 587.4L297.1 568.0L299.6 580.2L302.0 589.9L304.3 580.7L306.5 574.8L308.4 582.9L310.3 591.3L312.7 587.0L315.2 587.9L317.4 574.5L319.7 559.3L321.2 571.8L322.7 587.7L324.6 589.8L326.5 589.7L328.4 590.2L330.2 588.8L332.1 592.7L334.0 591.3L335.9 585.7L337.8 583.1L340.0 591.4L342.3 594.4L344.2 593.3L346.0 587.6L348.5 600.1L350.9 610.2L353.4 589.9L355.8 571.9L357.5 576.5L359.2 580.2L361.3 577.2L363.3 571.7L365.6 581.8L367.9 590.1L369.9 589.9L372.0 592.2L373.9 589.8L375.8 591.6L377.6 590.3L380.1 587.0L382.5 588.4L384.8 584.3L387.1 573.7L389.3 570.5L391.6 568.3L393.1 578.2L394.6 594.3L396.5 582.5L398.3 574.4L400.2 582.7L402.1 589.2L404.0 587.8L405.9 588.7L407.4 578.0L408.9 574.0L410.2 582.2L411.5 591.8L413.4 578.5L415.3 567.9L417.2 562.7L419.0 558.0L420.9 558.4L422.8 564.2L424.7 558.7L426.6 554.3L428.8 554.8L431.1 547.3L432.6 559.5L434.1 570.5L436.0 574.4L437.8 587.0L439.7 585.9L441.6 585.4L443.5 588.6L445.4 590.9L447.3 593.0L449.1 593.7L451.6 602.1L454.0 604.1L455.9 597.7L457.8 590.9L460.0 583.2L462.3 576.0L464.2 573.7L466.1 574.4L467.9 571.2L469.8 578.5L471.7 577.5L473.0 586.6L474.3 591.5L476.8 576.1L479.2 564.0L480.6 573.3L481.9 581.8L483.4 577.0L484.9 572.7L487.1 565.3L489.4 560.4L491.3 562.7L493.2 573.8L495.0 569.4L496.9 564.0L499.4 558.1L501.8 551.0L504.1 552.6L506.3 553.7L507.8 558.9L509.3 566.1L511.2 571.2L513.1 580.6L514.6 573.9L516.1 569.5L517.4 578.0L518.7 582.6L520.6 578.7L522.5 569.3L524.0 576.6L525.5 580.2L526.8 571.4L528.2 567.3L530.0 569.2L531.9 573.1L533.2 559.3L534.5 543.7L536.1 563.5L537.6 579.1L538.9 572.4L540.2 562.0L541.7 585.7L543.2 595.5L545.1 600.8L547.0 608.9L548.8 605.2L550.7 606.3L552.2 597.1L553.7 585.7L555.4 590.0L557.1 606.6L559.6 608.0L562.0 611.0L563.9 599.0L565.8 589.1L567.3 581.3L568.8 571.6L570.5 574.6L572.2 579.9L573.7 583.6L575.2 590.1L577.1 596.0L578.9 601.3L580.8 593.1L582.7 587.8L585.0 565.6L587.2 553.1L588.7 558.6L590.2 563.3L592.1 577.9L594.0 588.1L595.5 577.8L597.0 565.2L599.3 566.3L601.5 579.9L603.8 585.3L606.0 588.7L608.5 593.2L610.9 594.8L612.8 599.1L614.7 600.6L616.6 609.9L618.5 598.5L620.3 591.7L622.6 585.0L624.9 572.0L626.4 582.5L627.9 586.6L629.7 576.3L632.0 600.6L633.9 600.0L635.8 598.5L637.3 597.0L638.8 586.0L640.1 596.0L641.4 602.8L643.3 602.2L645.2 600.6L647.1 604.0L648.9 601.5L650.8 582.7L652.7 573.1L654.6 584.3L656.5 595.3L658.3 595.4L660.2 599.5L662.7 585.1L665.1 564.1L666.4 580.1L667.7 592.7L669.6 600.2L671.5 600.9L673.4 606.7L675.3 605.5L677.2 597.2L679.0 592.6L680.9 573.0L682.8 550.1L684.7 565.6L686.6 588.7L688.4 599.9L690.3 605.0L692.2 605.3L694.1 609.0L696.0 607.3L697.8 607.5L699.7 606.4L701.6 607.6L702.9 590.0L704.2 573.1L705.7 561.6L707.3 539.6L708.6 556.7L709.9 565.4L711.4 581.0L712.9 588.1L714.8 588.2L716.7 587.2L718.5 572.7L720.4 562.8L722.7 560.3L724.9 548.7L726.4 558.6L727.9 572.9L729.8 561.7L731.7 553.3L733.0 547.8L734.3 534.3L736.6 575.0L737.9 573.9L739.2 570.2L740.6 580.6L741.9 592.2L743.4 598.3L744.9 607.6L747.1 605.7L749.4 606.8L751.7 590.3L753.0 589.6L754.3 594.4L755.6 597.1L756.9 591.5L758.4 606.2L759.9 606.6L761.4 599.4L762.9 592.6L764.3 562.7L765.6 535.2L767.1 520.0L768.6 508.8L770.3 523.5L772.0 540.7L773.5 555.8L775.0 567.7L776.9 568.5L778.7 571.1L780.6 549.7L782.5 536.0L783.8 545.3L785.1 553.9L787.4 537.4L788.7 552.0L790.0 569.7L791.5 577.2L793.0 592.0L794.9 566.6L796.8 546.6L798.1 571.4L799.4 604.3L801.3 603.7L803.2 607.2L805.1 605.7L807.0 602.8L808.8 605.9L810.7 609.2L812.6 609.7L814.5 608.5L816.4 611.8L818.3 606.0L820.1 606.0L822.4 592.5L824.6 575.1L826.2 586.2L827.7 599.8L829.5 603.6L831.4 605.7L833.3 608.9L835.7 613.0L838.2 605.3L839.7 595.3L841.2 585.2L843.5 601.3L845.0 595.9L846.5 591.7L847.8 587.4L849.1 578.5L850.6 585.3L852.1 594.4L854.0 603.2L855.9 606.6L857.8 605.6L859.6 603.8L861.5 608.5L863.4 609.3L865.3 609.0L867.2 607.1L868.7 602.7L870.2 594.8L871.5 597.8L872.8 604.3L874.3 591.8L875.8 584.6L877.3 573.9L878.8 565.7L880.5 582.2L882.2 598.2L884.1 595.6L886.0 593.4L887.5 581.0L889.0 569.8L890.5 576.4L892.0 577.4L893.5 585.8L895.0 597.8L896.3 596.6L897.6 590.9L899.0 594.7L900.3 604.0L901.8 594.7L903.3 586.1L904.8 582.9L906.3 581.8L907.6 576.6L908.9 570.1L910.2 582.3L911.6 597.7L913.1 581.2L914.6 560.0L916.5 602.5L917.8 581.7L919.1 553.5L920.6 551.5L922.1 546.9L923.4 554.7L924.7 560.6L926.2 582.7L927.7 605.2L930.2 600.8L932.6 600.9L934.5 604.0L936.4 603.8L937.7 599.3L939.0 592.3L940.9 582.6L942.8 572.3L945.2 570.4L947.7 565.7L949.4 571.3L951.1 571.0L952.6 568.9L954.1 562.2L956.0 565.7L957.8 575.9L959.7 576.2L961.6 572.9L963.5 580.5L965.4 584.9L967.3 588.2L969.1 588.8L971.0 592.9L972.9 598.8L975.3 600.0L977.8 603.2L979.7 604.3L981.6 599.3L982.9 604.2L984.2 604.2L986.1 591.4L987.9 579.8L989.8 586.0L991.7 591.4L993.6 585.8L995.5 585.1L996.8 579.2L998.1 565.3L999.6 574.0L1001.1 588.9L1003.0 585.8L1004.9 592.1L1006.4 588.6L1007.9 579.3L1009.2 569.4L1010.5 560.3L1011.8 573.7L1013.2 593.4L1015.0 584.8L1016.9 586.8L1018.8 592.0L1020.7 599.6L1023.1 601.1L1025.6 604.2L1027.5 608.7L1029.3 608.0L1031.8 600.9L1034.2 592.3L1036.1 596.0L1038.0 600.2L1039.7 587.0L1041.4 570.2L1042.9 579.9L1044.4 587.0L1046.3 577.1L1047.8 590.7L1049.3 600.9L1051.2 592.4L1053.0 582.1L1054.9 585.1L1056.8 588.7L1058.1 591.3L1059.4 600.8L1061.3 589.9L1063.2 574.7L1064.5 561.3L1065.8 557.5L1067.3 577.1L1068.8 591.2L1070.7 588.3L1072.6 587.2L1073.9 576.7L1075.2 564.2L1077.5 555.1L1078.8 578.2L1080.1 601.7L1082.0 600.1L1083.9 607.4L1085.4 600.5L1086.9 591.8L1088.6 594.2L1090.3 595.1L1091.8 599.1L1093.3 604.7L1095.2 595.3L1097.1 591.9L1098.4 581.0L1099.7 566.8L1101.2 558.9L1102.7 548.6L1104.6 555.2L1106.5 553.5L1108.4 554.6L1110.2 556.4L1112.1 556.2L1114.0 553.6L1115.5 551.9L1117.0 545.7L1118.9 554.9L1120.8 552.1L1122.7 548.6L1124.5 548.3L1126.4 553.0L1128.3 555.3L1130.6 557.6L1132.8 553.6L1134.9 553.1L1137.0 559.5L1137.0 623.8Z" fill="#f04c87" /><path d="M113.6 623.8L113.6 613.7L117.3 615.5L119.5 613.8L121.4 613.2L123.3 614.8L125.2 614.9L127.1 614.1L128.9 616.1L130.8 615.9L132.7 614.6L134.6 616.9L136.8 616.1L139.1 614.3L141.3 614.2L143.2 614.9L145.1 613.4L146.4 614.8L147.7 615.4L149.3 612.1L150.8 607.6L152.4 613.3L154.1 611.9L156.6 609.4L159.0 607.4L160.4 609.8L161.7 610.0L163.2 610.3L164.7 610.6L166.6 612.3L168.4 611.3L170.7 611.0L173.0 615.1L174.8 615.3L176.7 613.7L178.6 610.6L180.5 612.8L182.9 610.8L185.4 611.4L187.6 611.1L189.9 610.1L191.4 613.2L192.9 616.6L194.2 617.1L195.5 616.0L198.0 615.4L200.4 614.7L202.9 616.6L205.3 615.6L207.1 614.8L208.8 614.3L210.6 616.9L212.1 616.1L213.6 614.9L215.5 614.8L217.4 612.7L219.2 610.9L220.6 611.4L221.9 611.6L224.1 609.7L226.0 609.0L227.9 610.8L229.8 610.7L231.7 609.9L233.0 610.7L234.3 609.8L236.7 607.5L239.2 610.2L240.5 610.8L241.8 609.4L243.1 610.5L244.4 611.0L246.3 609.1L248.2 609.8L250.7 610.6L253.1 611.9L255.0 610.6L256.9 608.2L259.1 611.4L261.4 609.5L263.3 608.1L265.1 612.4L267.6 612.5L270.0 614.3L271.9 615.5L273.8 611.4L275.7 615.2L277.6 614.6L279.4 614.3L281.3 614.0L283.2 614.5L285.1 613.7L287.0 614.7L288.8 615.1L290.7 611.3L292.6 608.9L293.9 606.8L295.2 609.4L297.1 610.6L299.6 612.6L302.0 615.6L304.3 615.1L306.5 614.1L308.4 613.0L310.3 606.3L312.7 613.4L315.2 611.3L317.4 612.1L319.7 609.5L321.2 610.3L322.7 612.7L324.6 615.0L326.5 611.7L328.4 614.4L330.2 616.4L332.1 616.5L334.0 616.9L335.9 615.3L337.8 617.1L340.0 617.1L342.3 612.8L344.2 616.4L346.0 615.4L348.5 616.8L350.9 613.0L353.4 613.3L355.8 611.7L357.5 613.4L359.2 612.7L361.3 612.1L363.3 612.7L365.6 613.2L367.9 612.9L369.9 611.9L372.0 616.8L373.9 614.6L375.8 616.1L377.6 614.1L380.1 615.2L382.5 614.8L384.8 614.4L387.1 614.3L389.3 613.2L391.6 615.3L393.1 615.8L394.6 617.5L396.5 617.1L398.3 615.7L400.2 615.8L402.1 614.8L404.0 612.0L405.9 613.9L407.4 611.5L408.9 611.0L410.2 610.2L411.5 612.9L413.4 613.0L415.3 609.4L417.2 610.9L419.0 611.0L420.9 611.9L422.8 610.9L424.7 609.0L426.6 608.2L428.8 606.8L431.1 609.3L432.6 610.0L434.1 612.2L436.0 614.5L437.8 615.1L439.7 615.9L441.6 615.2L443.5 612.8L445.4 617.1L447.3 613.7L449.1 616.0L451.6 615.1L454.0 614.8L455.9 616.2L457.8 615.6L460.0 613.3L462.3 612.6L464.2 610.7L466.1 611.9L467.9 612.1L469.8 613.4L471.7 614.1L473.0 616.3L474.3 616.4L476.8 615.3L479.2 614.4L480.6 612.9L481.9 614.0L483.4 613.3L484.9 613.7L487.1 612.7L489.4 612.1L491.3 610.0L493.2 611.8L495.0 610.3L496.9 607.1L499.4 607.8L501.8 607.2L504.1 608.8L506.3 611.5L507.8 612.0L509.3 613.7L511.2 614.5L513.1 615.1L514.6 613.8L516.1 615.6L517.4 615.6L518.7 611.8L520.6 616.7L522.5 617.7L524.0 614.6L525.5 611.3L526.8 607.5L528.2 608.5L530.0 610.7L531.9 605.8L533.2 602.9L534.5 606.5L536.1 609.7L537.6 612.5L538.9 616.6L540.2 617.0L541.7 616.3L543.2 615.5L545.1 612.0L547.0 612.9L548.8 612.8L550.7 611.6L552.2 612.4L553.7 610.6L555.4 613.9L557.1 616.4L559.6 618.0L562.0 618.5L563.9 615.3L565.8 613.0L567.3 613.2L568.8 614.6L570.5 613.7L572.2 611.0L573.7 613.2L575.2 614.2L577.1 614.4L578.9 614.7L580.8 613.0L582.7 614.2L585.0 609.0L587.2 605.8L588.7 601.1L590.2 606.9L592.1 614.6L594.0 616.4L595.5 616.0L597.0 614.7L599.3 613.4L601.5 614.9L603.8 617.4L606.0 616.8L608.5 617.7L610.9 616.7L612.8 618.2L614.7 617.0L616.6 615.9L618.5 616.7L620.3 613.8L622.6 612.9L624.9 612.2L626.4 610.5L627.9 612.3L629.7 610.2L632.0 617.9L633.9 616.1L635.8 617.4L637.3 616.7L638.8 615.2L640.1 612.7L641.4 613.7L643.3 616.3L645.2 617.5L647.1 617.0L648.9 618.1L650.8 616.2L652.7 612.8L654.6 610.9L656.5 611.0L658.3 612.9L660.2 613.7L662.7 611.7L665.1 611.2L666.4 608.9L667.7 614.3L669.6 613.7L671.5 618.3L673.4 619.5L675.3 616.2L677.2 613.8L679.0 611.1L680.9 603.9L682.8 601.0L684.7 607.3L686.6 611.2L688.4 619.3L690.3 617.8L692.2 617.9L694.1 617.7L696.0 616.3L697.8 619.0L699.7 617.1L701.6 617.0L702.9 615.2L704.2 612.2L705.7 605.2L707.3 600.0L708.6 604.2L709.9 612.3L711.4 616.7L712.9 616.5L714.8 613.6L716.7 613.2L718.5 613.2L720.4 611.2L722.7 609.8L724.9 606.6L726.4 608.4L727.9 607.2L729.8 608.0L731.7 611.5L733.0 611.0L734.3 613.1L736.6 612.7L737.9 612.5L739.2 613.2L740.6 616.4L741.9 617.1L743.4 617.9L744.9 619.3L747.1 618.1L749.4 617.4L751.7 613.5L753.0 617.3L754.3 616.4L755.6 616.5L756.9 613.6L758.4 614.3L759.9 614.2L761.4 611.8L762.9 612.7L764.3 609.2L765.6 610.5L767.1 608.9L768.6 610.7L770.3 613.6L772.0 612.9L773.5 617.2L775.0 610.8L776.9 611.8L778.7 607.4L780.6 601.8L782.5 608.4L783.8 610.2L785.1 610.2L787.4 611.5L788.7 613.1L790.0 613.9L791.5 610.4L793.0 614.9L794.9 613.0L796.8 613.2L798.1 614.5L799.4 614.9L801.3 617.8L803.2 617.5L805.1 618.7L807.0 619.2L808.8 619.1L810.7 617.4L812.6 617.2L814.5 616.6L816.4 617.6L818.3 618.9L820.1 616.8L822.4 613.3L824.6 605.9L826.2 610.0L827.7 615.5L829.5 617.7L831.4 615.9L833.3 616.6L835.7 617.6L838.2 618.3L839.7 618.0L841.2 616.7L843.5 616.9L845.0 614.7L846.5 614.5L847.8 617.3L849.1 615.9L850.6 617.1L852.1 617.1L854.0 617.7L855.9 615.3L857.8 617.3L859.6 617.2L861.5 618.5L863.4 616.8L865.3 618.5L867.2 617.8L868.7 617.7L870.2 614.6L871.5 614.2L872.8 610.6L874.3 611.3L875.8 612.6L877.3 609.9L878.8 611.8L880.5 610.4L882.2 614.7L884.1 616.1L886.0 615.6L887.5 615.2L889.0 613.2L890.5 613.1L892.0 615.3L893.5 615.3L895.0 613.4L896.3 616.2L897.6 617.8L899.0 616.1L900.3 612.8L901.8 617.0L903.3 612.6L904.8 611.9L906.3 610.9L907.6 613.9L908.9 610.5L910.2 614.1L911.6 614.4L913.1 614.9L914.6 614.3L916.5 611.3L917.8 610.8L919.1 607.5L920.6 607.7L922.1 605.3L923.4 605.7L924.7 611.1L926.2 613.5L927.7 615.7L930.2 617.4L932.6 618.9L934.5 618.8L936.4 617.5L937.7 618.2L939.0 618.4L940.9 616.7L942.8 615.0L945.2 612.3L947.7 612.4L949.4 611.5L951.1 611.5L952.6 614.4L954.1 613.5L956.0 611.5L957.8 609.5L959.7 612.2L961.6 612.8L963.5 609.9L965.4 613.4L967.3 613.5L969.1 612.2L971.0 611.2L972.9 616.8L975.3 616.1L977.8 617.2L979.7 616.8L981.6 618.4L982.9 617.8L984.2 617.9L986.1 618.1L987.9 616.5L989.8 616.7L991.7 615.1L993.6 615.5L995.5 615.5L996.8 613.9L998.1 613.7L999.6 613.6L1001.1 615.0L1003.0 611.4L1004.9 616.8L1006.4 614.4L1007.9 614.8L1009.2 615.6L1010.5 612.5L1011.8 613.3L1013.2 610.9L1015.0 612.5L1016.9 611.7L1018.8 612.0L1020.7 614.4L1023.1 617.8L1025.6 613.8L1027.5 617.3L1029.3 617.1L1031.8 616.0L1034.2 615.2L1036.1 616.0L1038.0 614.9L1039.7 610.6L1041.4 612.8L1042.9 612.9L1044.4 611.3L1046.3 612.8L1047.8 614.3L1049.3 616.5L1051.2 616.5L1053.0 614.3L1054.9 611.8L1056.8 612.0L1058.1 610.7L1059.4 610.9L1061.3 611.6L1063.2 608.2L1064.5 603.1L1065.8 605.4L1067.3 609.0L1068.8 613.9L1070.7 616.0L1072.6 616.3L1073.9 615.5L1075.2 613.9L1077.5 612.8L1078.8 612.6L1080.1 615.0L1082.0 614.3L1083.9 616.4L1085.4 616.2L1086.9 618.4L1088.6 614.9L1090.3 616.7L1091.8 617.4L1093.3 616.3L1095.2 616.3L1097.1 614.4L1098.4 614.7L1099.7 614.2L1101.2 607.6L1102.7 610.1L1104.6 610.6L1106.5 610.5L1108.4 610.7L1110.2 610.2L1112.1 609.8L1114.0 608.7L1115.5 608.9L1117.0 609.0L1118.9 604.5L1120.8 608.6L1122.7 608.5L1124.5 609.5L1126.4 611.0L1128.3 609.0L1130.6 609.9L1132.8 611.5L1134.9 610.3L1137.0 610.5L1137.0 623.8Z" fill="#6e38c0" /><path d="M113.6 623.8L113.6 623.8L117.3 623.8L119.5 623.8L121.4 623.8L123.3 623.8L125.2 623.8L127.1 623.8L128.9 623.8L130.8 623.8L132.7 623.8L134.6 623.8L136.8 623.8L139.1 623.8L141.3 623.8L143.2 623.8L145.1 623.8L146.4 623.8L147.7 623.8L149.3 623.8L150.8 623.8L152.4 623.8L154.1 623.8L156.6 623.8L159.0 623.8L160.4 623.8L161.7 623.8L163.2 623.8L164.7 623.3L166.6 622.4L168.4 621.6L170.7 622.4L173.0 623.3L174.8 623.8L176.7 623.8L178.6 623.8L180.5 623.8L182.9 623.8L185.4 623.8L187.6 623.8L189.9 623.8L191.4 623.8L192.9 623.8L194.2 623.8L195.5 623.8L198.0 623.8L200.4 623.8L202.9 623.8L205.3 623.8L207.1 623.8L208.8 623.8L210.6 623.8L212.1 623.8L213.6 623.8L215.5 623.8L217.4 623.8L219.2 623.8L220.6 623.8L221.9 623.8L224.1 623.8L226.0 623.8L227.9 623.8L229.8 623.8L231.7 623.8L233.0 623.8L234.3 623.8L236.7 623.8L239.2 623.8L240.5 623.8L241.8 623.8L243.1 623.8L244.4 623.8L246.3 623.8L248.2 623.8L250.7 623.8L253.1 623.8L255.0 623.8L256.9 623.8L259.1 623.8L261.4 623.8L263.3 623.8L265.1 623.8L267.6 623.8L270.0 623.8L271.9 623.8L273.8 623.8L275.7 623.8L277.6 623.8L279.4 623.8L281.3 623.8L283.2 623.8L285.1 623.8L287.0 623.8L288.8 623.8L290.7 622.9L292.6 621.5L293.9 620.1L295.2 621.5L297.1 622.9L299.6 623.8L302.0 623.8L304.3 623.8L306.5 623.8L308.4 623.8L310.3 623.8L312.7 623.8L315.2 623.8L317.4 623.8L319.7 623.8L321.2 623.8L322.7 623.8L324.6 623.8L326.5 623.8L328.4 623.8L330.2 623.8L332.1 623.8L334.0 623.8L335.9 623.8L337.8 623.8L340.0 623.8L342.3 623.8L344.2 623.8L346.0 623.8L348.5 623.8L350.9 623.8L353.4 623.8L355.8 623.8L357.5 623.8L359.2 623.8L361.3 623.8L363.3 623.8L365.6 623.8L367.9 623.8L369.9 623.8L372.0 623.8L373.9 623.8L375.8 623.8L377.6 623.8L380.1 623.8L382.5 623.8L384.8 623.8L387.1 623.8L389.3 623.8L391.6 623.8L393.1 623.8L394.6 623.8L396.5 623.8L398.3 623.8L400.2 623.8L402.1 623.8L404.0 623.8L405.9 623.8L407.4 623.8L408.9 623.8L410.2 623.8L411.5 623.8L413.4 623.8L415.3 623.8L417.2 623.8L419.0 623.8L420.9 623.8L422.8 623.8L424.7 623.8L426.6 623.8L428.8 623.8L431.1 623.8L432.6 623.8L434.1 623.8L436.0 623.8L437.8 623.8L439.7 623.8L441.6 623.8L443.5 623.8L445.4 623.8L447.3 623.8L449.1 623.8L451.6 623.8L454.0 623.8L455.9 623.8L457.8 623.8L460.0 623.8L462.3 623.8L464.2 623.8L466.1 623.8L467.9 623.8L469.8 623.8L471.7 623.8L473.0 623.8L474.3 623.8L476.8 623.8L479.2 623.8L480.6 623.8L481.9 623.8L483.4 623.8L484.9 623.8L487.1 623.8L489.4 623.8L491.3 623.8L493.2 623.8L495.0 623.8L496.9 623.8L499.4 623.8L501.8 623.8L504.1 623.8L506.3 623.8L507.8 623.8L509.3 623.8L511.2 623.8L513.1 623.8L514.6 623.8L516.1 623.8L517.4 623.8L518.7 623.8L520.6 623.8L522.5 623.8L524.0 622.3L525.5 619.8L526.8 617.3L528.2 619.8L530.0 622.3L531.9 620.3L533.2 618.2L534.5 620.3L536.1 622.5L537.6 623.8L538.9 623.8L540.2 623.8L541.7 623.8L543.2 623.8L545.1 623.8L547.0 623.8L548.8 623.8L550.7 623.8L552.2 623.8L553.7 623.8L555.4 623.8L557.1 623.8L559.6 623.8L562.0 623.8L563.9 623.8L565.8 623.8L567.3 623.8L568.8 623.8L570.5 623.8L572.2 623.8L573.7 623.8L575.2 623.8L577.1 623.8L578.9 623.8L580.8 623.8L582.7 623.8L585.0 622.7L587.2 620.9L588.7 619.1L590.2 620.9L592.1 622.7L594.0 623.8L595.5 623.8L597.0 623.8L599.3 623.8L601.5 623.8L603.8 623.8L606.0 623.8L608.5 623.8L610.9 623.8L612.8 623.8L614.7 623.8L616.6 623.8L618.5 623.8L620.3 623.8L622.6 623.8L624.9 623.8L626.4 623.8L627.9 623.8L629.7 623.8L632.0 623.8L633.9 623.8L635.8 623.8L637.3 623.8L638.8 623.8L640.1 623.8L641.4 623.8L643.3 623.8L645.2 623.8L647.1 623.8L648.9 623.8L650.8 623.2L652.7 622.1L654.6 621.0L656.5 622.1L658.3 623.2L660.2 622.9L662.7 621.5L665.1 620.1L666.4 621.5L667.7 622.9L669.6 623.8L671.5 623.8L673.4 623.8L675.3 623.8L677.2 623.8L679.0 622.1L680.9 619.2L682.8 616.3L684.7 619.2L686.6 622.1L688.4 623.8L690.3 623.8L692.2 623.8L694.1 623.8L696.0 623.8L697.8 623.8L699.7 623.8L701.6 623.8L702.9 623.8L704.2 621.9L705.7 618.6L707.3 615.4L708.6 618.6L709.9 621.9L711.4 623.8L712.9 623.8L714.8 623.8L716.7 623.8L718.5 623.8L720.4 623.8L722.7 623.8L724.9 623.8L726.4 623.8L727.9 623.8L729.8 623.8L731.7 623.8L733.0 623.8L734.3 623.8L736.6 623.8L737.9 623.8L739.2 623.8L740.6 623.8L741.9 623.8L743.4 623.8L744.9 623.8L747.1 623.8L749.4 623.8L751.7 623.8L753.0 623.8L754.3 623.8L755.6 623.8L756.9 623.8L758.4 623.8L759.9 623.8L761.4 623.8L762.9 623.8L764.3 623.8L765.6 623.8L767.1 623.8L768.6 623.8L770.3 623.8L772.0 623.8L773.5 623.8L775.0 623.8L776.9 623.0L778.7 621.7L780.6 620.4L782.5 621.7L783.8 623.0L785.1 623.8L787.4 623.8L788.7 623.8L790.0 623.8L791.5 623.8L793.0 623.8L794.9 623.8L796.8 623.8L798.1 623.8L799.4 623.8L801.3 623.8L803.2 623.8L805.1 623.8L807.0 623.8L808.8 623.8L810.7 623.8L812.6 623.8L814.5 623.8L816.4 623.8L818.3 623.8L820.1 623.8L822.4 623.8L824.6 623.8L826.2 623.8L827.7 623.8L829.5 623.8L831.4 623.8L833.3 623.8L835.7 623.8L838.2 623.8L839.7 623.8L841.2 623.8L843.5 623.8L845.0 623.8L846.5 623.8L847.8 623.8L849.1 623.8L850.6 623.8L852.1 623.8L854.0 623.8L855.9 623.8L857.8 623.8L859.6 623.8L861.5 623.8L863.4 623.8L865.3 623.8L867.2 623.8L868.7 623.8L870.2 623.8L871.5 623.8L872.8 623.8L874.3 623.8L875.8 623.8L877.3 623.8L878.8 623.8L880.5 623.8L882.2 623.8L884.1 623.8L886.0 623.8L887.5 623.8L889.0 623.8L890.5 623.8L892.0 623.8L893.5 623.8L895.0 623.8L896.3 623.8L897.6 623.8L899.0 623.8L900.3 623.8L901.8 623.8L903.3 623.8L904.8 623.8L906.3 623.8L907.6 623.8L908.9 623.8L910.2 623.8L911.6 623.8L913.1 622.9L914.6 621.5L916.5 620.1L917.8 621.5L919.1 622.9L920.6 622.3L922.1 619.8L923.4 617.3L924.7 619.8L926.2 622.3L927.7 623.8L930.2 623.8L932.6 623.8L934.5 623.8L936.4 623.8L937.7 623.8L939.0 623.8L940.9 623.8L942.8 623.8L945.2 623.8L947.7 623.8L949.4 623.8L951.1 623.8L952.6 623.8L954.1 623.8L956.0 623.8L957.8 623.8L959.7 623.8L961.6 623.8L963.5 623.8L965.4 623.8L967.3 623.8L969.1 623.8L971.0 623.8L972.9 623.8L975.3 623.8L977.8 623.8L979.7 623.8L981.6 623.8L982.9 623.8L984.2 623.8L986.1 623.8L987.9 623.8L989.8 623.8L991.7 623.8L993.6 623.8L995.5 623.8L996.8 623.8L998.1 623.8L999.6 623.8L1001.1 623.8L1003.0 623.8L1004.9 623.8L1006.4 623.8L1007.9 623.8L1009.2 623.8L1010.5 623.8L1011.8 623.8L1013.2 623.8L1015.0 623.8L1016.9 623.8L1018.8 623.8L1020.7 623.8L1023.1 623.8L1025.6 623.8L1027.5 623.8L1029.3 623.8L1031.8 623.8L1034.2 623.8L1036.1 623.8L1038.0 623.8L1039.7 623.8L1041.4 623.8L1042.9 623.8L1044.4 623.8L1046.3 623.8L1047.8 623.8L1049.3 623.8L1051.2 623.8L1053.0 623.8L1054.9 623.8L1056.8 623.8L1058.1 623.8L1059.4 623.8L1061.3 623.8L1063.2 622.5L1064.5 620.3L1065.8 618.2L1067.3 620.3L1068.8 622.5L1070.7 623.8L1072.6 623.8L1073.9 623.8L1075.2 623.8L1077.5 623.8L1078.8 623.8L1080.1 623.8L1082.0 623.8L1083.9 623.8L1085.4 623.8L1086.9 623.8L1088.6 623.8L1090.3 623.8L1091.8 623.8L1093.3 623.8L1095.2 623.8L1097.1 623.8L1098.4 623.8L1099.7 623.8L1101.2 623.8L1102.7 623.8L1104.6 623.8L1106.5 623.8L1108.4 623.8L1110.2 623.8L1112.1 623.8L1114.0 623.8L1115.5 623.8L1117.0 623.8L1118.9 623.8L1120.8 623.8L1122.7 623.8L1124.5 623.8L1126.4 623.8L1128.3 623.8L1130.6 623.8L1132.8 623.8L1134.9 623.8L1137.0 623.8L1137.0 623.8Z" fill="#7fc94a" /><path d="M113.6 623.2H1137.6" stroke="#a3c9d0" stroke-width="1.2"/></svg>
<div class="yl" style="left:11px;top:617.8px">0.0</div>
<div class="yl" style="left:11px;top:589.0px">20.0</div>
<div class="yl" style="left:11px;top:560.3px">40.0</div>
<div class="yl" style="left:11px;top:531.5px">60.0</div>
<div class="yl" style="left:11px;top:502.8px">80.0</div>
<div class="yl" style="left:11px;top:474.0px">100.0</div>
<div class="xl" style="left:103.0px;top:626.5px">12:21:30</div>
<div class="xl" style="left:176.3px;top:626.5px">12:22:00</div>
<div class="xl" style="left:249.6px;top:626.5px">12:22:30</div>
<div class="xl" style="left:322.9px;top:626.5px">12:23:00</div>
<div class="xl" style="left:396.2px;top:626.5px">12:23:30</div>
<div class="xl" style="left:469.5px;top:626.5px">12:24:00</div>
<div class="xl" style="left:542.8px;top:626.5px">12:24:30</div>
<div class="xl" style="left:616.1px;top:626.5px">12:25:00</div>
<div class="xl" style="left:689.4px;top:626.5px">12:25:30</div>
<div class="xl" style="left:762.7px;top:626.5px">12:26:00</div>
<div class="xl" style="left:836.0px;top:626.5px">12:26:30</div>
<div class="xl" style="left:909.3px;top:626.5px">12:27:00</div>
<div class="xl" style="left:982.6px;top:626.5px">12:27:30</div>
<div class="xl" style="left:1055.9px;top:626.5px">12:28:00</div>
<div class="abs" style="left:65px;top:561.5px;width:0;height:0"><div style="position:absolute;left:-50px;top:-7px;width:100px;height:14px;text-align:center;transform:rotate(-90deg);font-size:10.3px;line-height:14px;color:#606060">percentage</div></div>
<div class="abs" style="left:1142px;top:465.6px;font-size:10px;line-height:12px;color:#444">1/17/2018</div>
<div class="abs" style="left:1142px;top:479px;font-size:11px;line-height:14px;font-weight:bold;color:#333">12:28:17 PM</div>
<div class="abs" style="right:328px;top:494.5px;font-size:11px;line-height:14px;color:#444">percentage</div>
<div class="lg" style="top:508.0px;color:#FF9900;height:14px"><i style="background:#FF9900"></i><b>softirq</b><u>0.8</u></div>
<div class="lg" style="top:522.0px;color:#990099;height:14px"><i style="background:#990099"></i><b>irq</b><u>1.0</u></div>
<div class="lg" style="top:536.1px;color:#DD1177;height:14px"><i style="background:#DD1177"></i><b>user</b><u>36.0</u></div>
<div class="lg" style="top:550.1px;color:#3B1EAC;height:14px"><i style="background:#3B1EAC"></i><b>system</b><u>10.7</u></div>
<div class="lg" style="top:564.2px;color:#5AAE1E;height:14px"><i style="background:#5AAE1E"></i><b>nice</b><u>0.0</u></div>
<div class="lg" style="top:578.2px;color:#0099C6;height:14px"><i style="background:#0099C6"></i><b>iowait</b><u>0.0</u></div>
<svg style="position:absolute;left:0;top:0" width="1600" height="808" viewBox="0 0 1600 808" fill="#cccccc" stroke="none"><path d="M1161.4 627.0L1156.4 631.6L1161.4 636.2ZM1166.4 627.0L1161.4 631.6L1166.4 636.2ZM1174.4 626.8000000000001L1182.0 631.6L1174.4 636.4ZM1190.2 627.0L1195.2 631.6L1190.2 636.2ZM1195.2 627.0L1200.2 631.6L1195.2 636.2Z"/><path d="M1210 630.7h3.500v-3.500h1.800v3.500h3.500v1.800h-3.500v3.500h-1.800v-3.500h-3.500zM1228.400 630.7h8.800v1.800h-8.800z"/><path d="M1256.500 634.1l5-5 5 5M1267.500 629.1l5 5 5-5" fill="none" stroke="#cccccc" stroke-width="1.6"/></svg>
<div class="abs" style="left:113px;top:665px;font-size:30px;line-height:33px;color:#333">load</div>
<div class="abs" style="left:113px;top:728px">Current system load, i.e. the number of processes using CPU or waiting for system resources (usually CPU and disk). The 3 metrics refer to 1, 5 and 15 minute averages. The system</div>
<div class="abs" style="left:113px;top:748px">calculates this once every 5 seconds. For more information check <a>this wikipedia article</a></div>
<div class="abs" style="left:114px;top:772px;font-size:11px;line-height:14px;font-weight:bold;color:#333">System Load Average (system.load)</div>
<div class="yl" style="left:11px;top:792px">2.00</div>
<svg style="position:absolute;left:0;top:0" width="1600" height="808" viewBox="0 0 1600 808"><path d="M150.8 786V808M224.4 786V808M298.4 786V808M372.4 786V808M446.4 786V808M520.4 786V808M594.4 786V808M668.4 786V808M742.4 786V808M816.4 786V808M890.4 786V808M964.4 786V808M1038.4 786V808M1112.4 786V808M113.6 797H1137.6" stroke="#eeeeee" stroke-width="1.6" fill="none"/><path d="M176 814C186 800 194 788.500 200 788.500S214 800 232 814M254 810C258 804 266 804 270 810M440 810C444 803.500 452 803.500 456 810M462 810C466 806 470 806 474 810M552 810C556 806.500 560 806.500 564 810" stroke="#3366CC" stroke-width="1.8" fill="none"/></svg>
<div class="abs" style="left:1142px;top:773px;font-size:10px;line-height:12px;color:#444">1/17/2018</div>
<div class="abs" style="left:1142px;top:787px;font-size:11px;line-height:14px;font-weight:bold;color:#333">12:28:10 PM</div>
<div class="abs" style="right:328px;top:801px;font-size:11px;line-height:14px;color:#666">load</div>
<div style="position:absolute;left:1332px;top:70px;width:2px;height:27px;background:#4f1478"></div>
<svg style="position:absolute;left:1354.2px;top:77.1px" width="15.6" height="15.6" viewBox="0 0 16 16" fill="#4f1478"><path d="M3.500 1.500h9v13L8 10.800 3.500 14.500z"/></svg>
<div class="sb1" style="top:75px;color:#4f1478;font-weight:bold">System Overview</div>
<div class="sb2" style="top:97.8px">cpu</div>
<div class="sb2" style="top:116.8px">load</div>
<div class="sb2" style="top:135.8px">disk</div>
<div class="sb2" style="top:154.8px">ram</div>
<div class="sb2" style="top:173.8px">swap</div>
<div class="sb2" style="top:192.8px">network</div>
<div class="sb2" style="top:211.8px">processes</div>
<div class="sb2" style="top:230.8px">interrupts</div>
<div class="sb2" style="top:249.8px">softirqs</div>
<div class="sb2" style="top:268.8px">softnet</div>
<div class="sb2" style="top:287.8px">entropy</div>
<div class="sb2" style="top:306.8px">ipc semaphores</div>
<div class="sb2" style="top:325.8px">uptime</div>
<svg style="position:absolute;left:1353.7px;top:359.3px" width="15" height="15" viewBox="0 0 16 16" fill="#666"><path d="M6 1.5H9.6L8.2 5.6l3.6-.8L6.6 14.8 7.9 8.7 4.4 9.5z"/></svg>
<div class="sb1" style="top:357.8px">Memory</div>
<svg style="position:absolute;left:1353.7px;top:385.3px" width="15" height="15" viewBox="0 0 16 16" fill="#666"><path d="M6 1.5H9.6L8.2 5.6l3.6-.8L6.6 14.8 7.9 8.7 4.4 9.5z"/></svg>
<div class="sb1" style="top:383.8px">CPUs</div>
<svg style="position:absolute;left:1353.7px;top:411.3px" width="15" height="15" viewBox="0 0 16 16" fill="#666"><path d="M1 3.800c0-.7.500-1.200 1.200-1.200h3.600c.7 0 1.200.5 1.200 1.200v.4h6.800c.7 0 1.200.5 1.200 1.200v6.800c0 .7-.5 1.200-1.200 1.200H2.200c-.7 0-1.200-.5-1.200-1.200z"/></svg>
<div class="sb1" style="top:409.8px">Disks</div>
<svg style="position:absolute;left:1353.7px;top:437.3px" width="15" height="15" viewBox="0 0 16 16" fill="#666"><path d="M12.900 6.700c0-.1 0-.2 0-.3 0-2.300-1.900-4.200-4.200-4.200-1.700 0-3.200 1-3.800 2.500-.3-.1-.6-.2-.9-.2-1.300 0-2.300 1-2.300 2.300 0 .2 0 .4.100.6C.7 8 0 9 0 10.200c0 1.700 1.400 3.100 3.100 3.100h9.300c2 0 3.600-1.500 3.600-3.400 0-1.600-1.300-3-3.100-3.200z"/></svg>
<div class="sb1" style="top:435.8px">IPv4 Networking</div>
<svg style="position:absolute;left:1353.7px;top:463.3px" width="15" height="15" viewBox="0 0 16 16" fill="#666"><path d="M12.900 6.700c0-.1 0-.2 0-.3 0-2.300-1.900-4.200-4.200-4.200-1.700 0-3.200 1-3.800 2.500-.3-.1-.6-.2-.9-.2-1.300 0-2.300 1-2.300 2.300 0 .2 0 .4.100.6C.7 8 0 9 0 10.200c0 1.700 1.400 3.100 3.100 3.100h9.300c2 0 3.600-1.500 3.600-3.400 0-1.600-1.300-3-3.100-3.200z"/></svg>
<div class="sb1" style="top:461.8px">IPv6 Networking</div>
<svg style="position:absolute;left:1353.7px;top:489.3px" width="15" height="15" viewBox="0 0 16 16" fill="#666"><path d="M8 1L2.500 2.800v5.400c0 3.400 2.600 5.600 5.500 6.800 2.900-1.200 5.500-3.400 5.500-6.800V2.800zm0 2v9.800c-2-1-3.700-2.500-3.700-4.800V4.200z" fill-rule="evenodd"/></svg>
<div class="sb1" style="top:487.8px">Firewall (netfilter)</div>
<svg style="position:absolute;left:1353.7px;top:515.3px" width="15" height="15" viewBox="0 0 16 16" fill="#666"><path d="M12.200 1a2.600 2.600 0 00-2.500 3.300L6 6.400a2.600 2.600 0 100 3.200l3.700 2.100a2.600 2.600 0 10.700-1.400L6.700 8.200a2.600 2.600 0 000-.4l3.700-2.100A2.600 2.600 0 1012.200 1z"/></svg>
<div class="sb1" style="top:513.8px">Network Interfaces</div>
<svg style="position:absolute;left:1353.7px;top:541.3px" width="15" height="15" viewBox="0 0 16 16" fill="#666"><path d="M5.600 3.600l1.200.3.800-.8 1.200 1-.6 1 .5 1.100 1.200.2v1.600l-1.200.2-.5 1.100.6 1-1.200 1-.8-.8-1.200.3-.4 1.100H3.800l-.3-1.100-1.100-.5-1 .6-1-1.200.8-.9L.9 7.700 0 7.300V5.800l1-.3.400-1.100-.7-1 1.100-1 1 .6 1.100-.4.300-1.100h1.400zM4.700 5a1.800 1.800 0 100 3.600A1.800 1.800 0 004.700 5zM13 .8l.9.500.7-.5.700.7-.5.700.5.900.9.200v1l-.9.200-.5.900.5.700-.7.700-.7-.5-.9.500-.2.800h-1l-.2-.8-.9-.5-.7.500-.7-.7.500-.7-.4-.9-.9-.2v-1l.9-.2.400-.9-.5-.7.700-.7.700.5.900-.5zM12.800 3a1 1 0 100 2 1 1 0 000-2zM13 8.800l.9.500.7-.5.700.7-.5.700.5.900.9.200v1l-.9.200-.5.900.5.700-.7.700-.7-.5-.9.500-.2.800h-1l-.2-.8-.9-.5-.7.500-.7-.7.500-.7-.4-.9-.9-.2v-1l.9-.2.400-.9-.5-.7.700-.7.700.5.900-.5zM12.800 11a1 1 0 100 2 1 1 0 000-2z" fill-rule="evenodd"/></svg>
<div class="sb1" style="top:539.8px">systemd Services</div>
<svg style="position:absolute;left:1353.7px;top:567.3px" width="15" height="15" viewBox="0 0 16 16" fill="#666"><path d="M8 3.300C7.200 2.200 6 1.600 4.700 1.600 2.400 1.600.8 3.300.8 5.600c0 .8.200 1.500.6 2.200h2.700l1.300-2.500 1.900 3.800 1-1.300h6.300c.4-.7.600-1.400.6-2.200 0-2.300-1.600-4-3.900-4C10 1.600 8.800 2.200 8 3.300zM2.300 9c1.300 1.800 3.400 3.500 5.700 5.400 2.300-1.900 4.400-3.600 5.700-5.400H9l-1.900 2.400-1.700-3.500L4.800 9z"/></svg>
<div class="sb1" style="top:565.8px">Applications</div>
<svg style="position:absolute;left:1353.7px;top:593.3px" width="15" height="15" viewBox="0 0 16 16" fill="#666"><path d="M8 1.800a3 3 0 100 6 3 3 0 000-6zM3 2.600a2.200 2.200 0 100 4.400 2.200 2.200 0 000-4.400zm10 0a2.200 2.200 0 100 4.400 2.200 2.200 0 000-4.400zM4.300 8.100C3.600 7.700 2.800 7.600 2.200 7.700.9 7.800 0 8.800 0 10.100v2.400h2.800v-.8c0-1.400.6-2.700 1.500-3.600zm7.400 0c.9.900 1.500 2.200 1.500 3.600v.8H16v-2.400c0-1.300-.9-2.300-2.200-2.400-.6-.1-1.400 0-2.100.4zM8 8.400c-2.400 0-4.200 1.500-4.200 3.700v2.400h8.400v-2.400c0-2.200-1.800-3.700-4.200-3.700z"/></svg>
<div class="sb1" style="top:591.8px">User Groups</div>
<svg style="position:absolute;left:1353.7px;top:619.3px" width="15" height="15" viewBox="0 0 16 16" fill="#666"><path d="M8 1.500a3 3 0 100 6 3 3 0 000-6zM5.600 7.800C3.800 8.400 3 9.900 3 11.800v1.400c0 .7.600 1.300 1.300 1.300h7.400c.7 0 1.300-.6 1.300-1.300v-1.400c0-1.900-.8-3.400-2.600-4-.7.500-1.500.8-2.400.8s-1.700-.3-2.400-.8z"/></svg>
<div class="sb1" style="top:617.8px">Users</div>
<svg style="position:absolute;left:1353.7px;top:645.3px" width="15" height="15" viewBox="0 0 16 16" fill="#666"><path d="M8 1a7 7 0 100 14A7 7 0 008 1zm0 1.800a5.200 5.200 0 110 10.400A5.200 5.200 0 018 2.800zM10.600 4.300L7.300 7.700a1 1 0 00-.3.700 1 1 0 001 1c.3 0 .5-.1.700-.3l3-3.700z" fill-rule="evenodd"/></svg>
<div class="sb1" style="top:643.8px">chrony local</div>
<svg style="position:absolute;left:1353.7px;top:671.3px" width="15" height="15" viewBox="0 0 16 16" fill="#666"><path d="M15 2C10 2.500 5.500 2 3 5c-1.500 1.800-1.500 4-.8 5.500C1.500 11.300.9 12.300.5 13.500l1.200.5c.4-1 .9-1.900 1.500-2.600 2 1.400 5 1.300 7.300-.6C13.400 8.400 13.500 5 15 2zM11 5.500C8 6.200 5.800 7.600 4 9.800 5.200 7.200 7.800 5.600 11 5.500z" fill-rule="evenodd"/></svg>
<div class="sb1" style="top:669.8px">Sensors</div>
<svg style="position:absolute;left:1353.7px;top:697.3px" width="15" height="15" viewBox="0 0 16 16" fill="#666"><path d="M1 2h1.300v11H15v1.300H1zM4 8.200h1.800V12H4zM7 3.600h1.800V12H7zM10 6h1.800v6H10zM13 4.800h1.600V12H13z"/></svg>
<div class="sb1" style="top:695.8px">Netdata Monitoring</div>
<svg style="position:absolute;left:1354.5px;top:739.3px" width="13" height="13" viewBox="0 0 16 16" fill="#666"><path d="M6.600 2h2.800v4.600H14v2.800H9.400V14H6.600V9.400H2V6.600h4.600z"/></svg>
<div class="sb1" style="top:736.8px">add more charts</div>
<svg style="position:absolute;left:1354.5px;top:765.5px" width="13" height="13" viewBox="0 0 16 16" fill="#666"><path d="M6.600 2h2.800v4.600H14v2.800H9.400V14H6.600V9.400H2V6.600h4.600z"/></svg>
<div class="sb1" style="top:763.0px">add more alarms</div>
<div style="position:absolute;left:1568.2px;top:53px;width:5px;height:579px;background:#e4e4e4"></div>
<div style="position:absolute;left:1585px;top:0;width:15px;height:808px;background:#f1f1f1"></div>
<div style="position:absolute;left:1587px;top:16px;width:11px;height:30px;background:#c1c1c1"></div>
<svg style="position:absolute;left:1585px;top:0" width="15" height="808" viewBox="0 0 15 808"><path d="M4.300 10.500L7.500 7L10.700 10.500Z" fill="#505050"/><path d="M4 797L7.500 801.500L11 797Z" fill="#505050"/></svg>
<div style="position:absolute;left:0;top:0;width:1600px;height:2px;background:#d2d2d2"></div>
</div></body></html>
